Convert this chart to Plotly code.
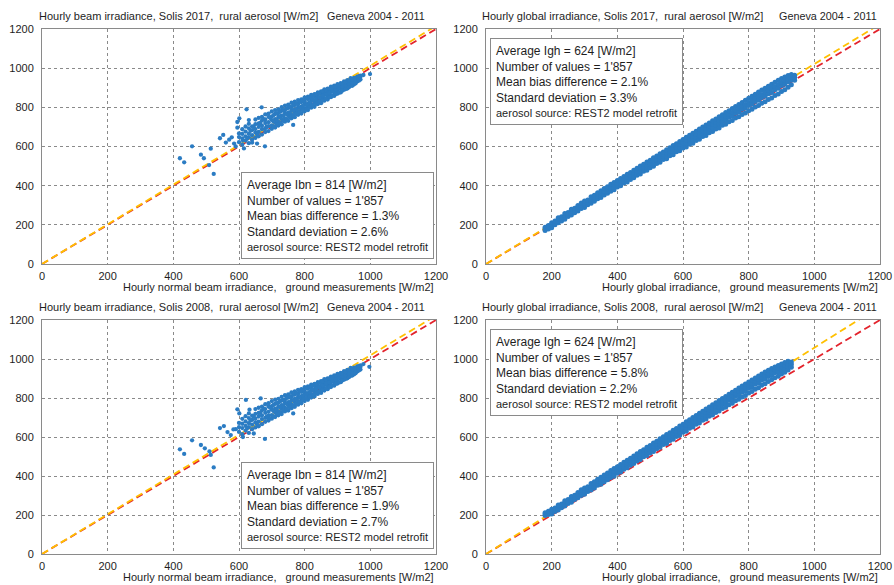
import plotly.graph_objects as go

# ---------------- data ----------------
titles = [
    "Hourly beam irradiance, Solis 2017,  rural aerosol [W/m2]",
    "Hourly global irradiance, Solis 2017,  rural aerosol [W/m2]",
    "Hourly beam irradiance, Solis 2008,  rural aerosol [W/m2]",
    "Hourly global irradiance, Solis 2008,  rural aerosol [W/m2]",
]
site_label = "Geneva 2004 - 2011"
xtitles = [
    "Hourly normal beam irradiance,   ground measurements [W/m2]",
    "Hourly global irradiance,   ground measurements [W/m2]",
    "Hourly normal beam irradiance,   ground measurements [W/m2]",
    "Hourly global irradiance,   ground measurements [W/m2]",
]
avg_name = ["Ibn", "Igh", "Ibn", "Igh"]
avg_value = [814, 624, 814, 624]
n_values = ["1'857", "1'857", "1'857", "1'857"]
mbd = [1.3, 2.1, 1.9, 5.8]
sd = [2.6, 3.3, 2.7, 2.2]
tick_values = [0, 200, 400, 600, 800, 1000, 1200]

# Top-left: beam, Solis 2017 -- main cloud as columns (x: list of y)
tl_col_x = [600, 610, 620, 630, 640, 650, 660, 670, 680, 690, 700, 710, 720, 730, 740, 750, 760, 770, 780,
            790, 800, 810, 820, 830, 840, 850, 860, 870, 880, 890, 900, 910, 920, 930, 940, 950, 960, 970]
tl_col_y = [[622, 648, 667], [610, 641, 664, 688], [630, 652, 676, 702], [617, 647, 665, 693, 716],
            [636, 658, 684, 703], [644, 671, 689, 714, 738], [652, 674, 700, 718, 746], [661, 688, 706, 733, 751],
            [674, 693, 720, 738, 764], [679, 704, 724, 751, 768], [690, 708, 735, 753, 779], [697, 722, 740, 766, 786],
            [707, 726, 752, 770, 790], [713, 740, 758, 782, 801], [727, 744, 770, 786, 809], [731, 757, 774, 797, 814],
            [744, 761, 784, 800, 824], [750, 774, 790, 812, 829], [762, 779, 800, 816, 837], [768, 790, 804, 827, 841],
            [780, 795, 816, 830, 851], [786, 807, 820, 842, 855], [798, 812, 832, 845, 864], [803, 824, 836, 856, 867],
            [817, 829, 848, 860, 876], [821, 840, 852, 870, 881], [834, 846, 864, 874, 892], [840, 858, 868, 886, 896],
            [852, 862, 880, 890, 905], [858, 876, 885, 902, 911], [870, 880, 897, 906, 919], [876, 892, 901, 917, 924],
            [890, 898, 914, 922, 933], [896, 912, 919, 934, 939], [910, 917, 932, 938, 949], [916, 930, 936, 950],
            [932, 938, 952, 957], [942, 956, 962]]
tl_fill_x = [705, 715, 725, 735, 745, 755, 765, 775, 785, 795, 805, 815, 825, 835, 845, 855, 865, 875, 885,
             895, 905, 915, 925, 935, 945, 955, 965]
tl_fill_y = [[702, 728, 760], [712, 738, 770], [722, 748, 778], [730, 757, 785], [740, 765, 795], [748, 772, 804],
             [758, 782, 812], [766, 790, 820], [775, 798, 828], [784, 808, 836], [792, 812, 846], [800, 825, 852],
             [810, 838, 860], [818, 842, 866], [826, 850, 874], [835, 860, 882], [845, 868, 888], [852, 874, 894],
             [860, 883, 902], [868, 890, 908], [875, 898, 914], [885, 906, 920], [893, 912, 928], [902, 920, 934],
             [910, 926, 942], [922, 936, 948], [936, 946, 958]]
tl_out_x = [420, 433, 457, 484, 493, 509, 514, 523, 542, 552, 560, 570, 578, 585, 590, 595, 601, 595, 612,
            623, 669, 679, 684, 765, 979, 999, 640, 655, 630, 615, 625, 635, 645, 655, 665, 675, 685, 695]
tl_out_y = [540, 519, 601, 558, 540, 505, 589, 460, 642, 659, 620, 635, 647, 615, 600, 725, 744, 696, 630,
            790, 800, 601, 701, 710, 965, 970, 620, 615, 735, 590, 640, 680, 700, 660, 720, 740, 700, 745]

# Bottom-left: beam, Solis 2008
bl_col_x = [600, 610, 620, 630, 640, 650, 660, 670, 680, 690, 700, 710, 720, 730, 740, 750, 760, 770, 780,
            790, 800, 810, 820, 830, 840, 850, 860, 870, 880, 890, 900, 910, 920, 930, 940, 950, 960, 970]
bl_col_y = [[626, 650, 672], [614, 646, 668, 693], [633, 657, 680, 707], [621, 651, 671, 697, 721],
            [640, 663, 688, 709], [649, 675, 694, 719, 743], [655, 679, 705, 723, 750], [666, 692, 711, 737, 756],
            [678, 698, 724, 743, 768], [684, 709, 729, 756, 773], [694, 712, 740, 758, 784], [702, 727, 745, 770, 791],
            [711, 731, 757, 775, 796], [718, 745, 763, 787, 806], [731, 749, 775, 791, 814], [736, 762, 779, 802, 819],
            [748, 766, 789, 805, 829], [755, 779, 795, 817, 834], [766, 784, 805, 821, 842], [773, 795, 809, 832, 846],
            [784, 800, 821, 835, 856], [791, 812, 825, 847, 860], [802, 817, 837, 850, 869], [808, 829, 841, 861, 872],
            [821, 834, 853, 865, 881], [826, 845, 857, 875, 886], [838, 851, 869, 879, 897], [845, 863, 873, 891, 901],
            [856, 867, 885, 895, 910], [863, 881, 890, 907, 916], [874, 885, 902, 911, 924], [881, 897, 906, 922, 929],
            [894, 903, 919, 927, 938], [901, 917, 924, 939, 944], [914, 922, 937, 943, 954], [921, 935, 941, 955],
            [936, 943, 957, 962], [946, 960, 967]]
bl_fill_x = [705, 715, 725, 735, 745, 755, 765, 775, 785, 795, 805, 815, 825, 835, 845, 855, 865, 875, 885,
             895, 905, 915, 925, 935, 945, 955, 965]
bl_fill_y = [[706, 733, 764], [716, 743, 774], [727, 752, 783], [735, 762, 790], [744, 770, 800], [753, 777, 809],
             [762, 787, 817], [771, 795, 825], [780, 803, 833], [789, 813, 841], [797, 818, 851], [805, 830, 857],
             [815, 843, 865], [823, 847, 871], [831, 855, 879], [840, 865, 887], [850, 873, 893], [857, 879, 899],
             [865, 888, 907], [873, 895, 913], [880, 903, 919], [890, 911, 925], [898, 917, 933], [907, 925, 939],
             [915, 931, 947], [927, 941, 953], [941, 951, 963]]
bl_out_x = [420, 433, 457, 484, 496, 510, 514, 523, 542, 554, 583, 595, 601, 621, 666, 679, 689, 765, 979, 997,
            565, 575, 590, 612, 632, 645, 625, 635, 645, 655, 665, 675, 685, 695]
bl_out_y = [537, 513, 583, 559, 542, 526, 508, 444, 646, 656, 639, 742, 721, 790, 798, 590, 696, 721, 974, 960,
            625, 610, 640, 600, 740, 618, 645, 685, 705, 665, 725, 745, 705, 750]

# Top-right: global, Solis 2017
tr_col_x = [180, 190, 200, 210, 220, 230, 240, 250, 260, 270, 280, 290, 300, 310, 320, 330, 340, 350, 360, 370,
            380, 390, 400, 410, 420, 430, 440, 450, 460, 470, 480, 490, 500, 510, 520, 530, 540, 550, 560, 570,
            580, 590, 600, 610, 620, 630, 640, 650, 660, 670, 680, 690, 700, 710, 720, 730, 740, 750, 760, 770,
            780, 790, 800, 810, 820, 830, 840, 850, 860, 870, 880, 890, 900, 910, 920, 930, 940]
tr_col_y = [[171, 180, 188], [179, 186, 197], [185, 195, 203, 210], [201, 208, 219], [210, 218, 229, 236],
            [219, 233, 241], [229, 238, 248, 258], [243, 252, 263], [250, 259, 270, 279], [262, 276, 285],
            [271, 280, 292, 299], [283, 290, 301, 312], [289, 302, 311, 322], [303, 314, 327], [310, 322, 331, 343],
            [321, 330, 341, 351], [333, 345, 356, 364], [339, 350, 363, 374], [352, 366, 373, 385],
            [361, 370, 384, 394], [372, 386, 394, 407], [379, 391, 402, 416], [393, 404, 414, 426],
            [399, 410, 425, 436], [413, 422, 435, 447], [419, 432, 444, 458], [432, 446, 455, 467],
            [440, 451, 466, 479], [453, 467, 476, 489], [459, 471, 486, 500], [474, 488, 497, 509],
            [479, 493, 506, 521], [492, 508, 517, 530], [499, 512, 527, 542], [513, 528, 538, 551],
            [519, 532, 548, 563], [533, 549, 558, 572], [538, 552, 568, 584], [553, 569, 578, 593],
            [558, 574, 589, 605], [573, 590, 598, 614], [578, 594, 610, 626], [592, 609, 619, 636],
            [598, 614, 630, 647], [612, 629, 640, 657], [617, 634, 651, 668], [631, 650, 661, 678],
            [637, 655, 671, 689], [651, 670, 681, 699], [656, 675, 692, 710], [670, 690, 702, 720],
            [676, 696, 713, 731], [689, 710, 723, 741], [695, 716, 733, 752], [708, 730, 743, 762],
            [714, 736, 754, 773], [727, 750, 764, 783], [733, 756, 774, 794], [745, 770, 784, 804],
            [752, 776, 795, 815], [764, 790, 805, 825], [771, 796, 815, 836], [783, 810, 825, 846],
            [790, 816, 836, 857], [802, 830, 846, 867], [809, 836, 856, 878], [821, 850, 866, 888],
            [828, 856, 877, 898], [840, 870, 887, 908], [848, 876, 897, 918], [860, 890, 907, 928],
            [868, 897, 917, 938], [881, 911, 927, 947], [890, 918, 937, 955], [903, 931, 946, 962],
            [915, 940, 955, 968], [938, 952, 964]]

# Bottom-right: global, Solis 2008
br_col_x = [180, 190, 200, 210, 220, 230, 240, 250, 260, 270, 280, 290, 300, 310, 320, 330, 340, 350, 360, 370,
            380, 390, 400, 410, 420, 430, 440, 450, 460, 470, 480, 490, 500, 510, 520, 530, 540, 550, 560, 570,
            580, 590, 600, 610, 620, 630, 640, 650, 660, 670, 680, 690, 700, 710, 720, 730, 740, 750, 760, 770,
            780, 790, 800, 810, 820, 830, 840, 850, 860, 870, 880, 890, 900, 910, 920, 930]
br_col_y = [[197, 205, 212], [202, 210, 219], [205, 213, 222, 229], [218, 226, 236], [226, 234, 244, 251],
            [237, 249, 257], [246, 255, 264, 273], [259, 268, 279], [266, 275, 286, 295], [279, 292, 301],
            [288, 297, 309, 316], [300, 307, 318, 329], [306, 319, 328, 339], [320, 332, 345], [328, 340, 349, 361],
            [339, 348, 360, 370], [352, 364, 375, 383], [358, 369, 383, 394], [371, 386, 393, 405],
            [381, 390, 404, 415], [392, 407, 415, 428], [399, 412, 423, 438], [414, 425, 436, 448],
            [421, 432, 447, 459], [435, 444, 458, 470], [442, 455, 467, 481], [455, 470, 479, 491],
            [464, 475, 490, 503], [477, 491, 501, 514], [484, 496, 511, 525], [499, 513, 522, 535],
            [505, 519, 532, 547], [518, 534, 543, 557], [526, 539, 554, 569], [540, 555, 565, 578],
            [547, 560, 576, 591], [561, 577, 586, 601], [567, 581, 597, 613], [582, 598, 607, 622],
            [588, 604, 619, 635], [603, 620, 628, 644], [609, 625, 641, 657], [624, 640, 650, 666],
            [630, 646, 662, 678], [645, 661, 672, 688], [651, 667, 683, 700], [665, 683, 694, 710],
            [672, 689, 705, 722], [686, 704, 715, 732], [692, 710, 726, 744], [706, 725, 737, 754],
            [713, 731, 748, 765], [726, 746, 758, 776], [733, 752, 769, 787], [746, 767, 779, 797],
            [753, 773, 790, 808], [766, 788, 801, 819], [773, 794, 811, 830], [786, 809, 822, 840],
            [793, 815, 833, 851], [805, 829, 843, 861], [813, 836, 853, 872], [825, 850, 864, 882],
            [833, 856, 874, 892], [845, 870, 885, 903], [853, 877, 895, 913], [865, 891, 905, 923],
            [873, 897, 915, 933], [885, 910, 925, 942], [893, 916, 934, 951], [904, 929, 943, 959],
            [912, 934, 952, 967], [923, 945, 960, 975], [932, 951, 967, 982], [944, 961, 976, 988],
            [958, 972, 984]]


def expand(groups, ox=None, oy=None):
    xs, ys = [], []
    for cx, cy in groups:
        for x, col in zip(cx, cy):
            for y in col:
                xs.append(x)
                ys.append(y)
    if ox:
        xs += ox
        ys += oy
    return xs, ys


points = [
    expand([(tl_col_x, tl_col_y), (tl_fill_x, tl_fill_y)], tl_out_x, tl_out_y),
    expand([(tr_col_x, tr_col_y)]),
    expand([(bl_col_x, bl_col_y), (bl_fill_x, bl_fill_y)], bl_out_x, bl_out_y),
    expand([(br_col_x, br_col_y)]),
]

# ---------------- styling ----------------
W, H = 894, 585
FONT = "Arial, Liberation Sans, sans-serif"
TXT = "#1e1e1e"
GRID = "#8a8a8a"
BLUE = "#2b7cc3"
RED = "#e3232c"
GOLD = "#ffc000"
marker_size = [4.3, 5, 4.3, 5]


def fx(p):
    return p / W


def fy(p):
    return 1 - p / H


xdom = [[fx(42), fx(436)], [fx(486), fx(880)], [fx(42), fx(436)], [fx(486), fx(880)]]
ydom = [[fy(264), fy(29)], [fy(264), fy(29)], [fy(554), fy(320)], [fy(554), fy(320)]]

fig = go.Figure()
annotations = []
layout_axes = {}

for i in range(4):
    sfx = "" if i == 0 else str(i + 1)
    xa, ya = "x" + sfx, "y" + sfx
    ref_x = [0, 1200]
    fig.add_trace(go.Scatter(x=ref_x, y=ref_x, xaxis=xa, yaxis=ya, mode="lines",
                             line=dict(color=RED, width=1.8, dash="7px,4px"), hoverinfo="skip"))
    fig.add_trace(go.Scatter(x=ref_x, y=[v * (1 + mbd[i] / 100) for v in ref_x], xaxis=xa, yaxis=ya,
                             mode="lines", line=dict(color=GOLD, width=1.8, dash="7px,4px"), hoverinfo="skip"))
    px, py = points[i]
    fig.add_trace(go.Scatter(x=px, y=py, xaxis=xa, yaxis=ya, mode="markers",
                             marker=dict(symbol="circle", size=marker_size[i], color=BLUE, line=dict(width=0))))

    axcommon = dict(range=[0, 1200], tickvals=tick_values, showgrid=True, gridcolor=GRID, griddash="dot",
                    gridwidth=1, zeroline=False, showline=True, linecolor=GRID, linewidth=1, mirror=True,
                    ticks="", tickfont=dict(family=FONT, size=11, color=TXT), fixedrange=True,
                    automargin=False)
    layout_axes["xaxis" + sfx] = dict(axcommon, domain=xdom[i], anchor=ya, ticklabelstandoff=2)
    layout_axes["yaxis" + sfx] = dict(axcommon, domain=ydom[i], anchor=xa, ticklabelstandoff=5)

    xd, yd = xa + " domain", ya + " domain"
    left_title_x = -0.013 if i % 2 == 0 else -0.015
    right_title_x = 0.977 if i % 2 == 0 else 0.997
    annotations.append(dict(text=titles[i], xref=xd, yref=yd, x=left_title_x, y=1, xanchor="left",
                            yanchor="middle", yshift=13, showarrow=False,
                            font=dict(family=FONT, size=11, color=TXT)))
    annotations.append(dict(text=site_label, xref=xd, yref=yd, x=right_title_x, y=1, xanchor="right",
                            yanchor="middle", yshift=13, showarrow=False,
                            font=dict(family=FONT, size=10.8, color=TXT)))
    annotations.append(dict(text=xtitles[i], xref=xd, yref=yd, x=1, y=0, xanchor="right", yanchor="middle",
                            yshift=-23, showarrow=False, font=dict(family=FONT, size=11, color=TXT)))

    lines = [
        f"Average {avg_name[i]} = {avg_value[i]} [W/m2]",
        f"Number of values = {n_values[i]}",
        f"Mean bias difference = {mbd[i]}%",
        f"Standard deviation = {sd[i]}%",
        '<span style="font-size:11px">aerosol source: REST2 model retrofit</span>',
    ]
    if i % 2 == 0:
        box = dict(x=0.505, y=0.021, xanchor="left", yanchor="bottom")
    else:
        box = dict(x=0.010, y=0.962, xanchor="left", yanchor="top")
    annotations.append(dict(text="<br>".join(lines), xref=xd, yref=yd, showarrow=False, align="left",
                            bgcolor="white", bordercolor=GRID, borderwidth=1, borderpad=5,
                            font=dict(family=FONT, size=12, color=TXT), **box))

fig.update_layout(
    width=W, height=H, margin=dict(l=0, r=0, t=0, b=0),
    paper_bgcolor="white", plot_bgcolor="white", showlegend=False,
    annotations=annotations, **layout_axes,
)

fig.write_html("out.html", config={"displayModeBar": False, "staticPlot": True},
               post_script="document.body.style.margin='0';document.body.style.overflow='hidden';")
